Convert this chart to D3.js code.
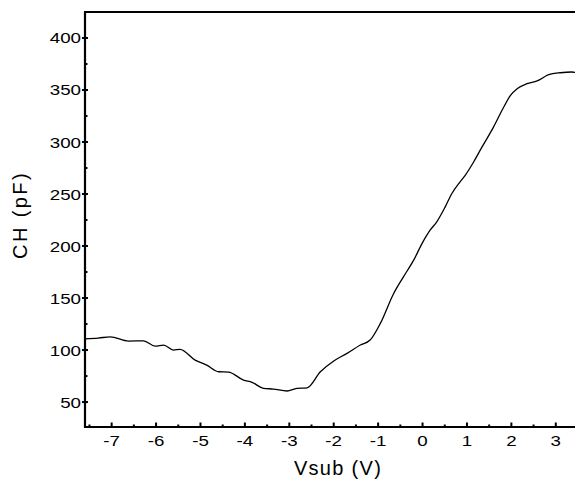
<!DOCTYPE html>
<html>
<head>
<meta charset="utf-8">
<script src="https://cdn.jsdelivr.net/npm/d3@7"></script>
<style>
body{margin:0;background:#fff;}
text{font-family:Arial,"Liberation Sans",sans-serif;fill:#000;}
</style>
</head>
<body>
<svg id="chart" width="575" height="480"></svg>
<script>
const vsub = [-7.6,-7.3,-7.03,-6.62,-6.28,-6.02,-5.83,-5.61,-5.46,-5.12,-4.86,-4.59,-4.37,-4.03,-3.84,-3.58,-3.36,-3.05,-2.83,-2.6,-2.3,-2.0,-1.7,-1.4,-1.18,-0.95,-0.65,-0.43,-0.2,-0.01,0.17,0.32,0.51,0.66,0.85,0.96,1.15,1.34,1.6,1.79,1.98,2.13,2.35,2.58,2.84,3.1,3.36,3.45];
const ch   = [110.8,111.5,112.7,108.6,108.9,103.8,104.8,100,100.6,90.3,85.5,79.1,78.8,71.1,68.9,63.2,62.5,60.6,63.2,63.7,79.1,89.5,96.8,104.8,109.6,125.6,154.4,170.4,186.4,202.5,215.2,223.2,237.6,250.5,262,268,280.8,295.3,314.5,330.5,344.9,351.3,356.1,358.7,364.7,366.6,367.3,366.8];
const xMajor = [-7,-6,-5,-4,-3,-2,-1,0,1,2,3];
const xMinor = [-7.5,-6.5,-5.5,-4.5,-3.5,-2.5,-1.5,-0.5,0.5,1.5,2.5];
const yMajor = [50,100,150,200,250,300,350,400];
const yMinor = [75,125,175,225,275,325,375];
const xTitle = "Vsub (V)";
const yTitle = "CH (pF)";

const svg = d3.select("#chart");
const x = d3.scaleLinear().domain([-7.6,3.5]).range([85,578]);
const y = d3.scaleLinear().domain([26,425]).range([427,12]);
const X0 = 85, Y0 = 427, YT = 12;

// curve
const line = d3.line().x((d,i)=>x(vsub[i])).y((d,i)=>y(ch[i])).curve(d3.curveMonotoneX);
svg.append("path").datum(ch).attr("d",line).attr("fill","none").attr("stroke","#000").attr("stroke-width",1.3);

// x axis ticks (inward)
svg.selectAll(".xmaj").data(xMajor).enter().append("line")
  .attr("x1",d=>x(d)).attr("x2",d=>x(d)).attr("y1",Y0).attr("y2",Y0-4.5)
  .attr("stroke","#000").attr("stroke-width",2);
svg.selectAll(".xmin").data(xMinor).enter().append("line")
  .attr("x1",d=>x(d)).attr("x2",d=>x(d)).attr("y1",Y0).attr("y2",Y0-2.5)
  .attr("stroke","#000").attr("stroke-width",2);
svg.selectAll(".xlab").data(xMajor).enter().append("text")
  .attr("x",d=>x(d)).attr("y",446).attr("text-anchor","middle")
  .attr("font-size",15).attr("transform",d=>`translate(${x(d)},0) scale(1.25,1) translate(${-x(d)},0)`)
  .text(d=>d);

// y axis ticks
svg.selectAll(".ymaj").data(yMajor).enter().append("line")
  .attr("x1",X0-3).attr("x2",X0+3).attr("y1",d=>y(d)).attr("y2",d=>y(d))
  .attr("stroke","#000").attr("stroke-width",2);
svg.selectAll(".ymin").data(yMinor).enter().append("line")
  .attr("x1",X0).attr("x2",X0+2.5).attr("y1",d=>y(d)).attr("y2",d=>y(d))
  .attr("stroke","#000").attr("stroke-width",2);
svg.selectAll(".ylab").data(yMajor).enter().append("text")
  .attr("x",81).attr("y",d=>y(d)+5.5).attr("text-anchor","end")
  .attr("font-size",15).attr("transform",`translate(81,0) scale(1.25,1) translate(-81,0)`)
  .text(d=>d);

// spines
svg.append("line").attr("x1",X0).attr("x2",X0).attr("y1",YT).attr("y2",Y0+1).attr("stroke","#000").attr("stroke-width",2.2);
svg.append("line").attr("x1",X0-1).attr("x2",580).attr("y1",Y0).attr("y2",Y0).attr("stroke","#000").attr("stroke-width",2.2);
svg.append("line").attr("x1",X0-1).attr("x2",580).attr("y1",YT).attr("y2",YT).attr("stroke","#000").attr("stroke-width",2.2);

// titles
svg.append("text").attr("x",338).attr("y",475).attr("text-anchor","middle")
  .attr("font-size",20).attr("letter-spacing",1.3).text(xTitle);
svg.append("text").attr("transform","translate(27,215) rotate(-90)").attr("text-anchor","middle")
  .attr("font-size",20).attr("letter-spacing",2.4).text(yTitle);
</script>
</body>
</html>
